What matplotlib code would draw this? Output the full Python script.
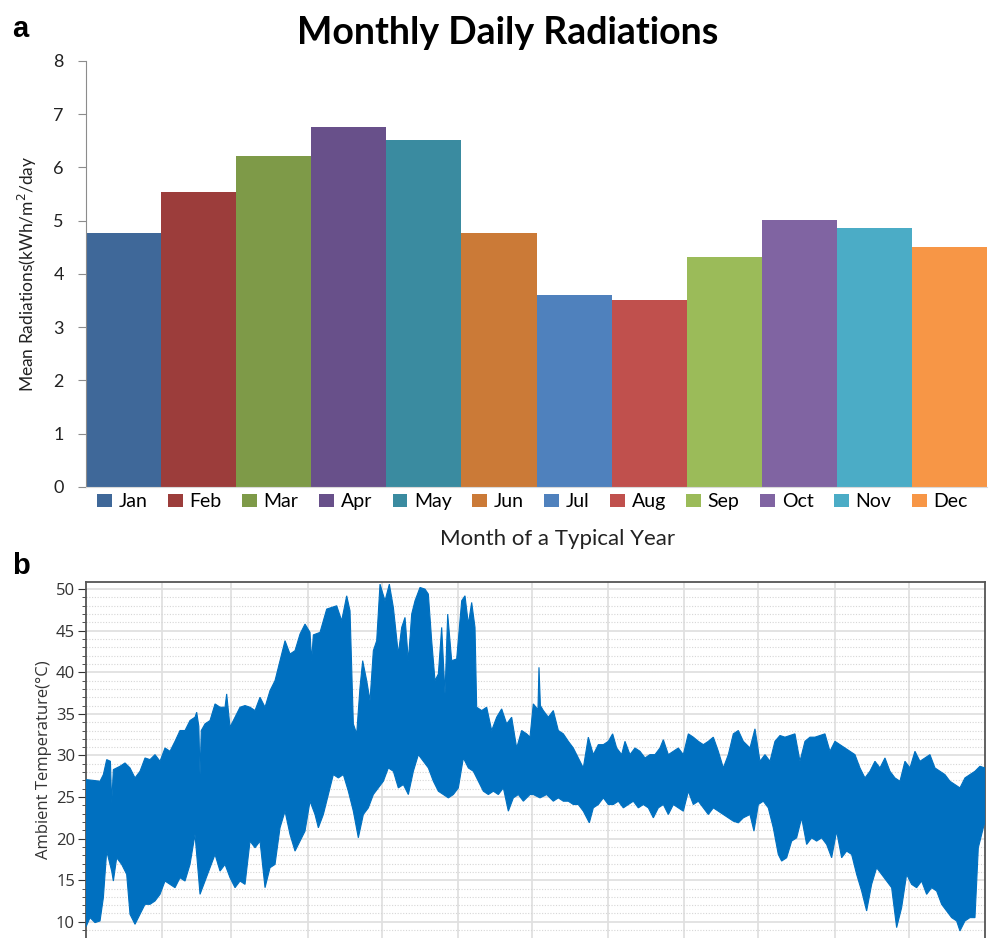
import numpy as np
import matplotlib.pyplot as plt
from matplotlib.patches import Patch

# panel a: monthly mean daily radiation (kWh/m2/day)
months = ['Jan', 'Feb', 'Mar', 'Apr', 'May', 'Jun',
          'Jul', 'Aug', 'Sep', 'Oct', 'Nov', 'Dec']
radiation = [4.76, 5.53, 6.22, 6.76, 6.51, 4.76,
             3.60, 3.51, 4.32, 5.01, 4.86, 4.51]
bar_colors = ['#3F6899', '#9C3D3B', '#7E9A48', '#68508A', '#3A8BA0', '#CB7A37',
              '#4F81BD', '#C0504D', '#9BBB59', '#8064A2', '#4BACC6', '#F79646']

# panel b: hourly ambient temperature, upper / lower envelope
# (day of year, degC)
hi_day = [0, 2.98, 5.68, 7.04, 8.39, 9.9, 10.42, 11.1, 13.8, 15.83, 17.86, 19.89,
          21.92, 23.95, 25.98, 28.01, 30.04, 32.07, 34.1, 36.13, 38.16, 40.19,
          42.22, 44.25, 44.93, 45.8, 46.29, 46.8, 48.32, 50.35, 52.38, 54.41,
          56.44, 57.11, 58.47, 60.5, 62.53, 64.56, 66.59, 68.62, 70.65, 72.68,
          74.71, 76.74, 78.77, 80.8, 82.83, 84.86, 86.89, 88.92,
          90.95, 91.6, 92.3, 95.01, 96.36, 97.72, 99.75, 101.78, 103.81, 105.84,
          107.19, 108.54, 109.9, 111.25, 112.33, 113.96, 115.31, 116.66, 118.02,
          119.37, 121.4, 123.16, 124.79, 126.81, 128.17, 129.52, 130.88, 132.23,
          133.58, 135.61, 137.64, 139.0, 140.35, 141.7, 143.06, 144.41, 145.76,
          146.85, 148.47, 150.5, 152.53, 153.88, 155.24, 156.59, 157.94, 158.62,
          160.65, 162.68, 164.71, 166.74, 168.77, 170.8, 172.83, 174.86, 176.89,
          178.92, 180.27,
          181.62, 183.5, 183.92, 184.5, 185.68, 187.71, 189.74, 191.77, 193.8,
          195.83, 197.86, 199.89, 201.92, 203.95, 205.98, 208.01, 210.05, 212.08,
          213.83, 215.46, 217.49, 218.84, 220.87, 222.9, 224.93, 226.96, 228.99,
          231.02, 233.05, 234.41, 236.44, 238.47, 240.5, 242.53, 244.56, 246.59,
          248.62, 250.65, 252.68, 254.71, 256.74, 258.77, 260.8, 262.83, 264.86,
          266.89, 269.59,
          271.62, 273.65, 275.68, 277.71, 279.74, 281.77, 283.8, 285.83, 287.86,
          289.89, 291.92, 293.95, 295.98, 298.01, 300.04, 302.07, 304.1, 306.13,
          308.16, 310.19, 312.22, 314.25, 316.28, 318.31, 320.34, 322.37, 324.4,
          326.43, 328.46, 330.49, 332.52, 334.55, 336.58, 338.61, 340.64, 342.67,
          344.7, 346.73, 348.76, 350.79, 352.82, 354.85, 356.88, 358.91, 360.95,
          362.98, 365]
hi_temp = [27.1, 27.0, 26.9, 27.7, 29.5, 29.3, 24.3, 28.3, 28.7, 29.1, 28.5, 27.3,
           28.1, 29.7, 29.5, 30.1, 29.3, 30.9, 30.5, 31.7, 33.0, 33.0,
           34.2, 34.6, 35.2, 33.5, 27.7, 33.0, 33.8, 34.2, 36.2, 35.8,
           35.8, 37.4, 33.4, 34.6, 35.8, 36.0, 35.8, 35.4, 37.0, 35.8,
           37.8, 39.0, 41.4, 43.8, 42.2, 42.6, 44.6, 45.8,
           44.8, 41.4, 44.5, 44.8, 46.2, 47.6, 47.8, 48.0, 46.2, 49.2,
           47.4, 33.8, 32.6, 38.2, 41.4, 39.0, 36.6, 42.6, 43.8,
           50.6, 48.6, 50.6, 47.8, 42.2, 45.4, 46.6, 41.4, 47.0,
           48.6, 50.2, 50.0, 49.4, 43.8, 39.0, 39.8, 45.4, 37.4,
           47.0, 41.4, 41.6, 48.6, 49.2, 45.8, 48.4, 45.4, 35.8,
           35.4, 35.8, 33.0, 34.6, 35.6, 33.8, 34.6, 30.9, 33.0,
           32.6, 32.2,
           36.2, 35.5, 40.6, 36.0, 35.4, 34.6, 35.4, 33.0, 32.6,
           31.7, 30.9, 29.7, 28.5, 32.2, 30.1, 31.3, 31.3, 31.7,
           32.6, 30.9, 30.1, 31.7, 30.1, 30.9, 30.5, 29.7, 30.1,
           30.1, 30.9, 31.9, 30.1, 30.5, 30.9, 30.1, 32.6, 32.2,
           31.7, 31.3, 31.7, 32.2, 30.5, 28.5, 30.1, 32.6, 33.0,
           31.7, 30.9,
           33.2, 29.3, 30.1, 29.3, 31.7, 32.4, 32.2, 32.4, 32.6,
           29.3, 31.7, 32.2, 32.2, 32.4, 32.6, 30.5, 31.7, 31.3,
           30.9, 30.5, 30.1, 28.5, 27.3, 28.1, 29.3, 28.5, 29.7,
           28.1, 27.3, 26.9, 29.3, 28.5, 30.5, 29.3, 29.7, 30.1,
           28.5, 28.1, 27.7, 26.9, 26.5, 26.1, 27.3, 27.7, 28.1,
           28.7, 28.5]

lo_day = [0, 1.62, 3.65, 5.68, 7.04, 8.39, 10.42, 11.1, 12.45, 14.48, 16.51, 17.86,
          19.89, 21.92, 23.95, 25.98, 28.01, 30.04, 32.07, 34.1, 36.13, 38.16,
          40.19, 42.22, 44.25, 46.29, 48.32, 50.35, 52.38, 54.41, 56.44, 58.47,
          60.5, 62.53, 64.56, 66.59, 68.62, 70.65, 72.68, 74.71, 76.74, 78.77,
          80.8, 82.83, 84.86, 86.89, 88.92,
          90.95, 92.98, 94.33, 96.36, 98.39, 100.42, 102.45, 104.48, 106.51,
          108.54, 110.57, 112.6, 114.63, 116.66, 118.69, 120.73, 122.75, 124.79,
          126.81, 128.85, 130.88, 132.91, 134.94, 136.97, 139.0, 141.03, 143.06,
          145.09, 147.12, 149.15, 151.18, 153.21, 155.24, 157.27, 159.3, 161.33,
          163.36, 165.39, 167.42, 169.45, 171.48, 173.51, 175.54, 177.57, 180.27,
          181.62, 184.33, 187.04, 189.74, 191.77, 193.8, 195.83, 197.86, 199.89,
          201.92, 204.36, 205.98, 208.01, 210.05, 212.08, 214.11, 216.14, 218.17,
          220.2, 222.23, 224.25, 226.29, 228.32, 230.35, 232.38, 234.41, 236.44,
          238.47, 240.5, 242.53, 244.56, 246.59, 248.62, 250.65, 252.68, 254.71,
          256.74, 258.77, 260.8, 262.83, 264.86, 266.89, 269.59,
          271.21, 272.97, 275.0, 277.03, 279.06, 281.09, 282.45, 284.48, 286.51,
          288.54, 290.57, 292.6, 294.63, 296.66, 298.69, 300.72, 302.75, 304.78,
          306.81, 308.84, 310.87, 312.9, 314.93, 316.96, 318.99, 321.02, 323.05,
          325.08, 327.11, 329.14, 331.17, 333.2, 335.23, 337.26, 339.29, 341.32,
          343.35, 345.38, 347.41, 349.44, 351.47, 353.5, 354.85, 356.88, 358.91,
          360.95, 362.3, 364.33, 365]
lo_temp = [9.4, 10.5, 9.9, 10.1, 12.9, 18.5, 16.1, 14.9, 17.7, 16.9, 15.7, 10.9,
           9.7, 10.9, 12.1, 12.1, 12.5, 13.3, 14.9, 14.5, 14.1, 15.3,
           14.9, 16.9, 20.5, 13.3, 14.9, 16.5, 18.1, 16.1, 16.9, 15.3,
           14.1, 14.9, 14.5, 19.7, 18.9, 19.7, 14.1, 16.5, 16.9, 21.3,
           23.3, 20.5, 18.5, 19.7, 20.9,
           24.5, 22.9, 21.3, 22.9, 25.3, 27.7, 27.3, 27.7, 25.7,
           23.3, 20.1, 22.9, 23.7, 25.3, 26.1, 26.9, 28.5, 28.1,
           26.1, 26.5, 25.3, 28.1, 30.1, 29.3, 28.5, 26.9, 25.7,
           25.3, 24.9, 25.3, 26.1, 29.7, 28.5, 28.1, 26.9, 25.7,
           25.3, 25.7, 25.3, 26.1, 23.3, 24.9, 25.3, 24.5, 25.3,
           25.3, 24.9, 25.3, 24.5, 24.9, 24.5, 24.5, 24.1, 24.1,
           23.3, 21.9, 23.7, 24.1, 24.9, 24.1, 24.1, 24.5, 23.7,
           24.1, 24.5, 23.7, 24.1, 23.7, 22.5, 23.7, 24.1, 22.9,
           24.1, 23.7, 23.3, 25.7, 24.1, 24.5, 23.7, 22.9, 23.7,
           23.3, 22.9, 22.5, 22.1, 21.9, 22.5, 22.9,
           20.9, 24.1, 24.5, 23.7, 21.3, 18.1, 17.3, 17.7, 19.7,
           20.1, 22.5, 19.3, 20.1, 19.7, 20.1, 19.3, 17.7, 20.9,
           17.7, 18.5, 18.1, 15.7, 13.7, 11.3, 14.5, 16.5, 15.7,
           14.9, 14.1, 9.3, 11.7, 15.7, 14.5, 14.1, 14.9, 13.3,
           14.1, 13.7, 12.1, 11.3, 10.5, 10.1, 8.9, 10.1, 10.5,
           10.5, 18.9, 21.3, 22.0]

month_edges = [31, 59, 90, 120, 151, 181, 212, 243, 273, 304, 334]

fig = plt.figure(figsize=(9.9, 9.38), dpi=100)
cal = ['Lato', 'DejaVu Sans']

# ---- panel a ----
ax1 = fig.add_axes([0.0869, 0.4811, 0.9101, 0.4539])
x = np.arange(len(months))
ax1.bar(x, radiation, width=1.0, color=bar_colors, edgecolor='none')
ax1.set_xlim(-0.5, 11.5)
ax1.set_ylim(0, 8)
ax1.set_yticks(range(0, 9))
ax1.set_xticks([])
for s in ['top', 'right']:
    ax1.spines[s].set_visible(False)
ax1.spines['left'].set_color('#8C8C8C')
ax1.spines['bottom'].set_color('#D9D9D9')
ax1.tick_params(axis='y', direction='out', length=6, color='#8C8C8C',
                labelsize=13, labelcolor='#222222', pad=10)
for lab in ax1.get_yticklabels():
    lab.set_family(cal)
ax1.set_ylabel('Mean Radiations(kWh/m$^2$/day', family=cal, fontsize=12.5,
               color='#222222', labelpad=10)
ax1.set_title('Monthly Daily Radiations', family=cal, fontweight='bold',
              fontsize=27, pad=12, x=0.468)
handles = [Patch(facecolor=c, edgecolor='none') for c in bar_colors]
ax1.legend(handles, months, ncol=12, loc='upper left', mode='expand',
           bbox_to_anchor=(0.008, -0.006, 0.975, 0.0), frameon=False,
           prop={'family': cal, 'size': 14}, handlelength=0.75,
           handleheight=0.7, handletextpad=0.35, columnspacing=1.0,
           borderaxespad=0.0, borderpad=0.2)
fig.text(0.563, 0.4254, 'Month of a Typical Year', family=cal, fontsize=16,
         color='#222222', ha='center', va='center')
fig.text(0.012, 0.969, 'a', fontweight='bold', fontsize=21, va='center',
         family='Liberation Sans')

# ---- panel b ----
ax2 = fig.add_axes([0.0869, 0.0, 0.908, 0.3799])
ax2.fill(np.concatenate([hi_day, lo_day[::-1]]),
         np.concatenate([hi_temp, lo_temp[::-1]]),
         color='#0070C0', lw=0.8, edgecolor='#0070C0', zorder=3)
ax2.set_xlim(0, 365)
ax2.set_ylim(8.05, 50.9)
ax2.set_xticks(month_edges)
ax2.set_xticklabels([])
ax2.tick_params(axis='x', length=0)
ax2.set_yticks(range(10, 51, 5))
ax2.set_yticks(range(9, 51), minor=True)
ax2.tick_params(axis='y', which='major', direction='out', length=6,
                color='#333333', labelsize=12, labelcolor='#333333', pad=2)
ax2.tick_params(axis='y', which='minor', direction='out', length=3,
                color='#333333')
for lab in ax2.get_yticklabels():
    lab.set_family(['Open Sans', 'DejaVu Sans'])
ax2.grid(which='major', color='#E0E0E0', lw=1.3, zorder=0)
ax2.grid(which='minor', axis='y', color='#D6D6D6', lw=0.8, ls=(0, (1, 1.5)),
         zorder=0)
ax2.set_axisbelow(True)
for s in ['top', 'left', 'right']:
    ax2.spines[s].set_color('#555555')
    ax2.spines[s].set_linewidth(1.3)
ax2.spines['bottom'].set_visible(False)
ax2.set_ylabel('Ambient Temperature(°C)', family=['Open Sans', 'DejaVu Sans'],
               fontsize=12, color='#333333', labelpad=3)
fig.text(0.012, 0.397, 'b', fontweight='bold', fontsize=21, va='center',
         family='Liberation Sans')

fig.savefig('out.png', dpi=100)
